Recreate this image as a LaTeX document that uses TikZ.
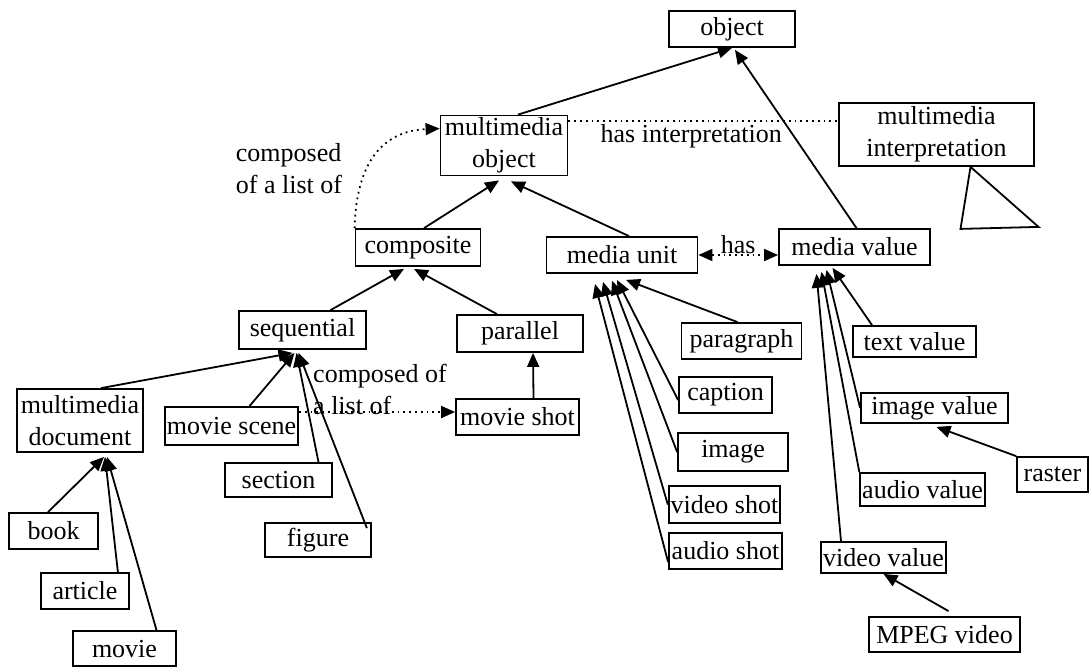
\documentclass[tikz,border=0pt]{standalone}
\usepackage{fontspec}
\setmainfont{Liberation Serif}
\usetikzlibrary{arrows.meta}

\begin{document}
\begin{tikzpicture}[x=0.5pt,y=-0.5pt,
  cls/.style={draw, line width=0.9pt, inner sep=1pt, align=center, font=\fontsize{13}{16}\selectfont},
  lbl/.style={inner sep=0pt, align=left, font=\fontsize{13}{16}\selectfont},
  isa/.style={line width=0.9pt, -{Triangle[length=7pt,width=6pt]}},
  rel/.style={line width=0.9pt, dotted}]
\useasboundingbox (0,0) rectangle (1090,666);

% top of the hierarchy
\node [cls, minimum width=63pt, minimum height=18pt] (obj) at (732,29) {object};
\node [cls, minimum width=63.5pt, minimum height=30pt] (mmobj) at (504,145.5) {multimedia\\object};
\node [cls, minimum width=97.5pt, minimum height=31.5pt] (mmint) at (936.5,134.5) {multimedia\\interpretation};
\node [cls, minimum width=62.5pt, minimum height=18.5pt] (comp) at (418,247.5) {composite};
\node [cls, minimum width=75.5pt, minimum height=18pt] (munit) at (622,255) {media unit};
\node [cls, minimum width=75.5pt, minimum height=18pt] (mval) at (854.5,247) {media value};

% composite side
\node [cls, minimum width=63.5pt, minimum height=19pt] (seq) at (302.5,330) {sequential};
\node [cls, minimum width=63pt, minimum height=18.5pt] (par) at (520,333.5) {parallel};
\node [cls, minimum width=63pt, minimum height=31.5pt] (mmdoc) at (80,420.5) {multimedia\\document};
\node [cls, minimum width=66.5pt, minimum height=19pt] (mscene) at (231.5,426) {movie scene};
\node [cls, minimum width=61.5pt, minimum height=18pt] (mshot) at (517.5,417) {movie shot};
\node [cls, minimum width=53.5pt, minimum height=17pt] (sect) at (278.5,480) {section};
\node [cls, minimum width=53pt, minimum height=17pt] (fig) at (318,540) {figure};
\node [cls, minimum width=44.5pt, minimum height=18pt] (book) at (53.5,531) {book};
\node [cls, minimum width=44pt, minimum height=18pt] (art) at (85,591) {article};
\node [cls, minimum width=51.5pt, minimum height=17.5pt] (movie) at (124.5,648.5) {movie};

% media unit side
\node [cls, minimum width=60pt, minimum height=18pt] (para) at (741.5,341) {paragraph};
\node [cls, minimum width=46.5pt, minimum height=18pt] (capt) at (725.5,395) {caption};
\node [cls, minimum width=55pt, minimum height=19pt] (img) at (733,452) {image};
\node [cls, minimum width=55.5pt, minimum height=18.5pt] (vshot) at (724.5,504.5) {video shot};
\node [cls, minimum width=56.5pt, minimum height=18pt] (ashot) at (725.5,551) {audio shot};

% media value side
\node [cls, minimum width=61.5pt, minimum height=15.5pt] (tval) at (914.5,341.5) {text value};
\node [cls, minimum width=73.5pt, minimum height=15pt] (ival) at (934.5,408) {image value};
\node [cls, minimum width=35.5pt, minimum height=17.5pt] (raster) at (1052.5,474.5) {raster};
\node [cls, minimum width=61.5pt, minimum height=16.5pt] (aval) at (922.5,489.5) {audio value};
\node [cls, minimum width=62.5pt, minimum height=15.5pt] (vval) at (883.5,557.5) {video value};
\node [cls, minimum width=75.5pt, minimum height=17.5pt] (mpeg) at (944.5,634.5) {MPEG video};

\node [lbl] (cmpa) at (289,168.5) {composed\\of a list of};
\node [lbl] (cmpb) at (380,389.5) {composed of\\a list of};

\draw [isa] ([xshift=7pt]mmobj.north) -- (obj.south);
\draw [isa] ([xshift=1pt]mval.north) -- ([xshift=1.5pt,yshift=-1pt]obj.south);
\draw [isa] ([xshift=3pt]comp.north) -- ([xshift=-2.5pt,yshift=-2pt]mmobj.south);
\draw [isa] ([xshift=3.5pt]munit.north) -- ([xshift=3.5pt,yshift=-2.5pt]mmobj.south);
\draw [isa] ([xshift=14pt]seq.north) -- ([xshift=-7pt,yshift=-1pt]comp.south);
\draw [isa] ([xshift=-11.5pt]par.north) -- ([xshift=-2pt,yshift=-1pt]comp.south);
\draw [isa] ([xshift=8pt]mshot.north) -- ([xshift=6.5pt]par.south);

% into sequential
\draw [isa] ([xshift=10.5pt]mmdoc.north) -- ([xshift=-5pt,yshift=-1.5pt]seq.south);
\draw [isa] ([xshift=9pt]mscene.north) -- ([xshift=-4pt,yshift=-1.5pt]seq.south);
\draw [isa] ([xshift=20pt]sect.north) -- ([xshift=-3pt,yshift=-1.5pt]seq.south);
\draw [isa] ([xshift=-2.5pt,yshift=-3pt]fig.north east) -- ([xshift=-2pt,yshift=-1.5pt]seq.south);

% into multimedia document
\draw [isa] ([xshift=-2.75pt]book.north) -- ([xshift=12pt,yshift=-2pt]mmdoc.south);
\draw [isa] ([xshift=-6pt]art.north east) -- ([xshift=12.5pt,yshift=-2pt]mmdoc.south);
\draw [isa] ([xshift=16pt]movie.north) -- ([xshift=13.5pt,yshift=-2pt]mmdoc.south);

% into media unit
\draw [isa] ([xshift=-2pt]para.north) -- ([xshift=2pt,yshift=-3pt]munit.south);
\draw [isa] ([yshift=-2.5pt]capt.west) -- ([xshift=-2.5pt,yshift=-3pt]munit.south);
\draw [isa] (img.west) -- ([xshift=-5pt,yshift=-3.5pt]munit.south);
\draw [isa] (vshot.west) -- ([xshift=-9.5pt,yshift=-4pt]munit.south);
\draw [isa] ([yshift=-5.5pt]ashot.west) -- ([xshift=-13.5pt,yshift=-5pt]munit.south);

% into media value
\draw [isa] ([xshift=-21.25pt]tval.north) -- ([xshift=-11pt,yshift=-1pt]mval.south);
\draw [isa] (ival.west) -- ([xshift=-14pt,yshift=-2pt]mval.south);
\draw [isa] (aval.north west) -- ([xshift=-16.5pt,yshift=-3pt]mval.south);
\draw [isa] ([xshift=-21.25pt]vval.north) -- ([xshift=-19pt,yshift=-4pt]mval.south);
\draw [isa] (raster.north west) -- ([xshift=1pt,yshift=-1.5pt]ival.south);
\draw [isa] ([xshift=2pt,yshift=2.5pt]mpeg.north) -- (vval.south);

% dotted relations
\draw [rel, -{Triangle[length=7pt,width=6pt]}] (comp.north west) .. controls +(2,-80) and +(-45,2) .. ([yshift=8.5pt]mmobj.west);
\draw [rel, -{Triangle[length=7pt,width=6pt]}] ([yshift=7pt]mscene.east) -- ([yshift=7pt]mscene.east -| mshot.west);
\draw [rel] ([yshift=-3pt]mmobj.north east) -- ([yshift=-3pt]mmobj.north east -| mmint.west) node [lbl, midway, below=1.5pt, xshift=-6pt] (hasint) {has interpretation};
\draw [rel, {Triangle[length=7pt,width=6pt]}-{Triangle[length=7pt,width=6pt]}] (munit.east) -- (munit.east -| mval.west) node [lbl, midway, above=0pt] (has) {has};

% triangle under interpretation
\draw [line width=0.9pt] ([xshift=17pt]mmint.south) -- ++(-10,62) -- ++(78,-2) -- cycle;

\end{tikzpicture}
\end{document}
